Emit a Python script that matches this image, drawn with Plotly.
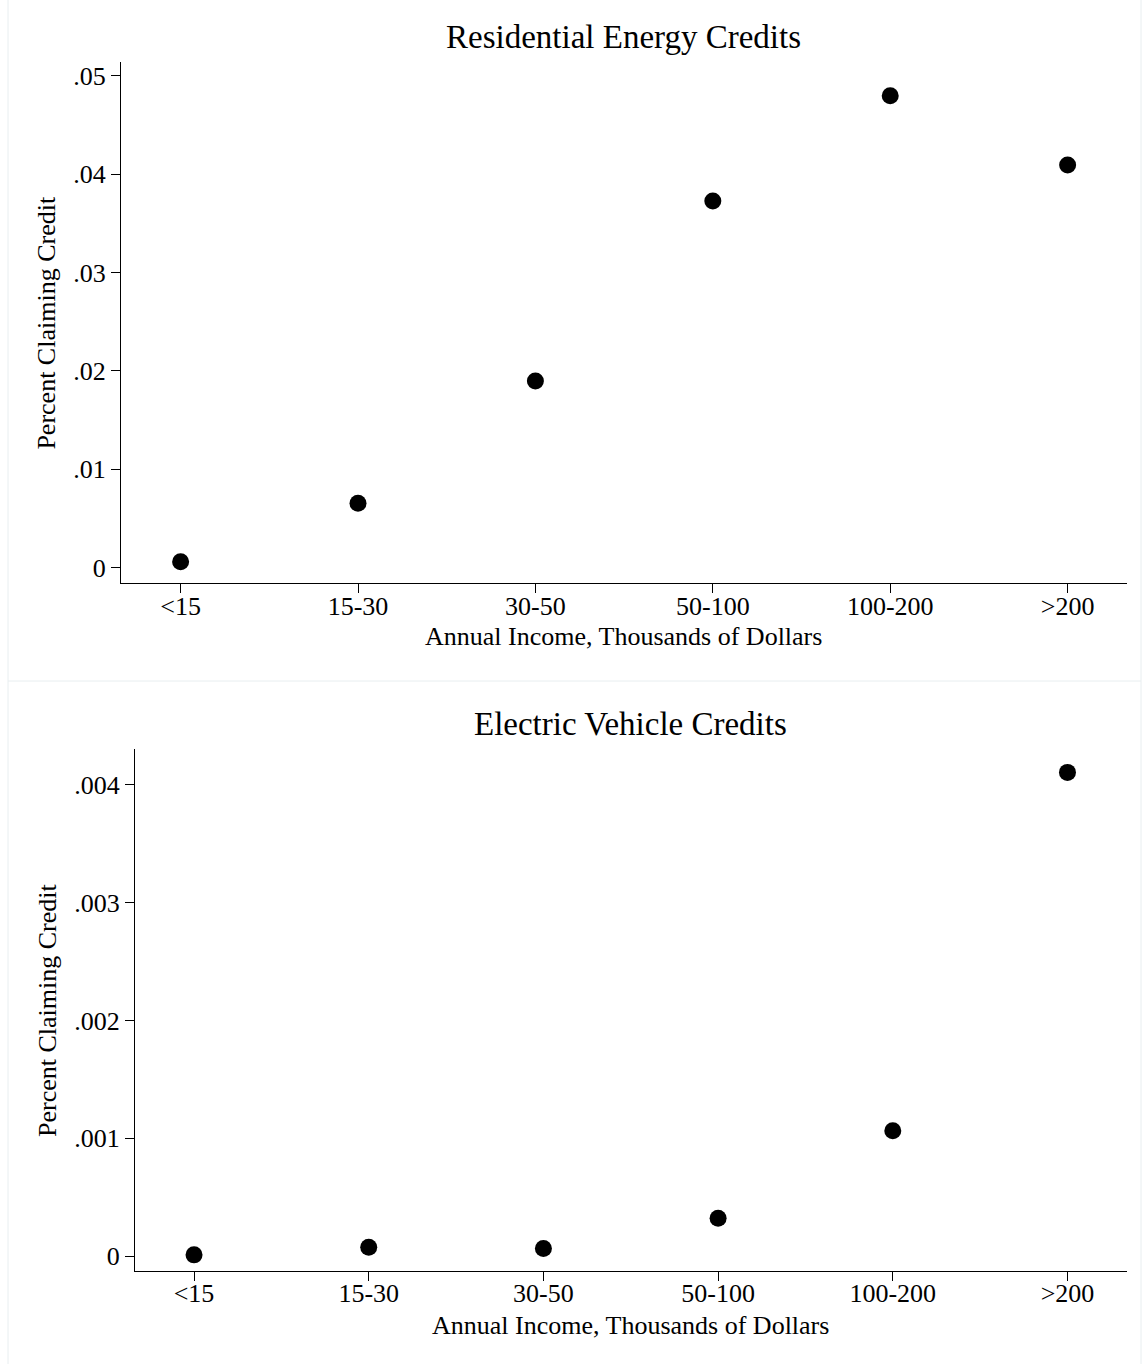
import plotly.graph_objects as go

# ---------------- data ----------------
income_groups = ["<15", "15-30", "30-50", "50-100", "100-200", ">200"]
residential_share = [0.00061, 0.00654, 0.01897, 0.03727, 0.04797, 0.04093]
ev_share = [0.00001, 0.000074, 0.000065, 0.00032, 0.001064, 0.004107]

res_tick_vals = [0, 0.01, 0.02, 0.03, 0.04, 0.05]
res_tick_text = ["0", ".01", ".02", ".03", ".04", ".05"]
ev_tick_vals = [0, 0.001, 0.002, 0.003, 0.004]
ev_tick_text = ["0", ".001", ".002", ".003", ".004"]

top_title = "Residential Energy Credits"
bottom_title = "Electric Vehicle Credits"
x_title = "Annual Income, Thousands of Dollars"
y_title = "Percent Claiming Credit"

# ---------------- layout helpers ----------------
W, H = 1143, 1364
FONT = "Liberation Serif"


def px_x(x):
    return x / W


def px_y(y):
    return 1 - y / H


fig = go.Figure()

fig.add_trace(go.Scatter(
    x=income_groups, y=residential_share, mode="markers",
    marker=dict(size=17, color="black", line=dict(width=0)),
    xaxis="x", yaxis="y", hoverinfo="x+y"))

fig.add_trace(go.Scatter(
    x=income_groups, y=ev_share, mode="markers",
    marker=dict(size=17, color="black", line=dict(width=0)),
    xaxis="x2", yaxis="y2", hoverinfo="x+y"))

common_x = dict(
    type="category", showline=True, linecolor="black", linewidth=1.3,
    ticks="outside", ticklen=9, tickwidth=1, tickcolor="black",
    showgrid=False, zeroline=False, ticklabelstandoff=-10,
    tickfont=dict(family=FONT, size=26, color="black"),
)
common_y = dict(
    showline=True, linecolor="black", linewidth=1.3,
    ticks="outside", ticklen=9, tickwidth=1, tickcolor="black",
    showgrid=False, zeroline=False,
    tickfont=dict(family=FONT, size=26, color="black"),
)

fig.update_layout(
    width=W, height=H, autosize=False,
    margin=dict(l=0, r=0, t=0, b=0),
    paper_bgcolor="white", plot_bgcolor="white",
    showlegend=False,
    font=dict(family=FONT, color="black"),
    xaxis=dict(common_x, domain=[px_x(121), px_x(1126.7)], anchor="y",
               range=[-0.336, 5.333]),
    yaxis=dict(common_y, domain=[px_y(583.3), px_y(62)], anchor="x",
               range=[-0.00159, 0.0514],
               tickvals=res_tick_vals, ticktext=res_tick_text),
    xaxis2=dict(common_x, domain=[px_x(135), px_x(1126.7)], anchor="y2",
                range=[-0.338, 5.339]),
    yaxis2=dict(common_y, domain=[px_y(1271), px_y(749.3)], anchor="x2",
                range=[-0.000127, 0.004303],
                tickvals=ev_tick_vals, ticktext=ev_tick_text),
)

annotations = [
    dict(text=top_title, x=px_x(623.9), y=px_y(37), font=dict(size=33)),
    dict(text=bottom_title, x=px_x(630.8), y=px_y(724), font=dict(size=33)),
    dict(text=x_title, x=px_x(623.9), y=px_y(636), font=dict(size=26)),
    dict(text=x_title, x=px_x(630.8), y=px_y(1325), font=dict(size=26)),
    dict(text=y_title, x=px_x(47), y=px_y(322.6), font=dict(size=26), textangle=-90),
    dict(text=y_title, x=px_x(47), y=px_y(1010), font=dict(size=26), textangle=-90),
]
for a in annotations:
    a.update(xref="paper", yref="paper", showarrow=False,
             xanchor="center", yanchor="middle")
    a["font"].update(family=FONT, color="black")
fig.update_layout(annotations=annotations)

# light panel borders
border = "#e8eef0"
fig.update_layout(shapes=[
    dict(type="line", xref="paper", yref="paper", x0=px_x(8), x1=px_x(8), y0=0, y1=1,
         line=dict(color=border, width=1)),
    dict(type="line", xref="paper", yref="paper", x0=px_x(1141), x1=px_x(1141), y0=0, y1=1,
         line=dict(color=border, width=1)),
    dict(type="line", xref="paper", yref="paper", x0=px_x(8), x1=px_x(1141),
         y0=px_y(681), y1=px_y(681), line=dict(color=border, width=1)),
])

fig.write_html("out.html")
